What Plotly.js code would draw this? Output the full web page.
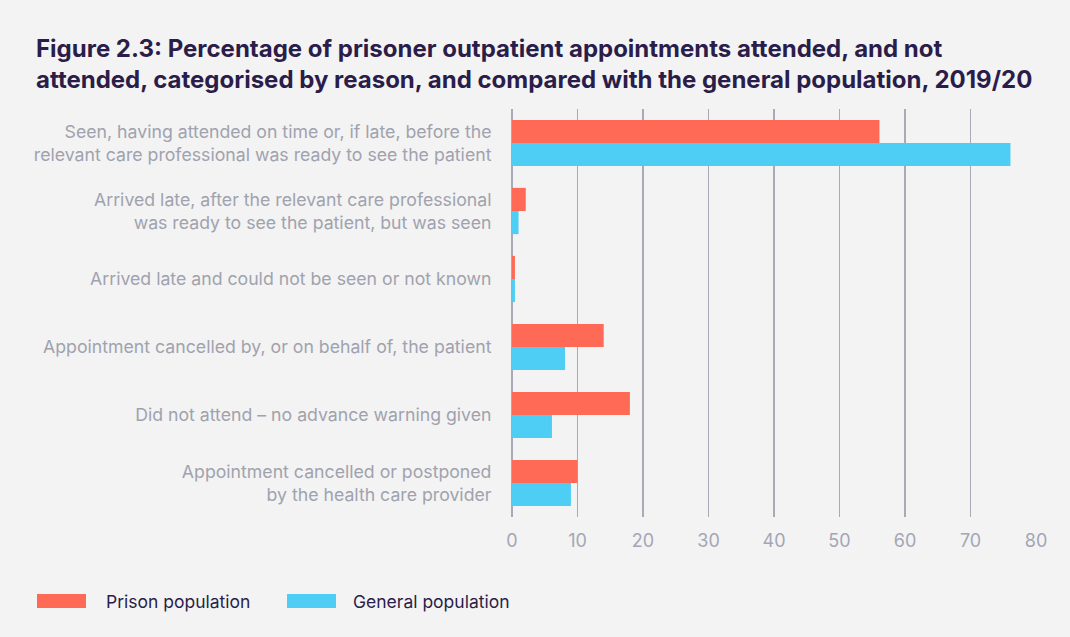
<!DOCTYPE html>
<html>
<head>
<meta charset="utf-8">
<script src="https://cdn.plot.ly/plotly-3.0.1.min.js"></script>
<style>
  html, body { margin: 0; padding: 0; background: #f3f3f3; }
  #chart { width: 1070px; height: 637px; }
</style>
</head>
<body>
<div id="chart"></div>
<script>
const categories = [
  "Seen, having attended on time or, if late, before the<br>relevant care professional was ready to see the patient",
  "Arrived late, after the relevant care professional<br>was ready to see the patient, but was seen",
  "Arrived late and could not be seen or not known",
  "Appointment cancelled by, or on behalf of, the patient",
  "Did not attend – no advance warning given",
  "Appointment cancelled or postponed<br>by the health care provider"
];
const prisonValues = [56.1, 2.1, 0.45, 14.0, 18.0, 10.0];
const generalValues = [76.1, 1.0, 0.45, 8.1, 6.1, 9.0];
const seriesNames = ["Prison population", "General population"];
const seriesColors = ["#ff6a57", "#4ecef5"];
const tickValues = [0, 10, 20, 30, 40, 50, 60, 70, 80];

const fontFam = "Inter, 'Noto Sans', sans-serif";

const traces = [
  { type: "bar", orientation: "h", name: seriesNames[0], y: categories, x: prisonValues,
    marker: { color: seriesColors[0] }, hoverinfo: "x+name" },
  { type: "bar", orientation: "h", name: seriesNames[1], y: categories, x: generalValues,
    marker: { color: seriesColors[1] }, hoverinfo: "x+name" }
];

// Plot domain in pixels: x 512..1036, y 109..517
const L = 512, R = 1036, T = 109, B = 517;
const px2x = p => (p - L) / (R - L);
const px2y = p => (B - p) / (B - T);

const legendItems = [
  { sx0: 37, sx1: 86, tx: 104 },
  { sx0: 287, sx1: 336, tx: 351 }
];
const shapes = [];
const annotations = [];
legendItems.forEach((it, i) => {
  shapes.push({ type: "rect", xref: "paper", yref: "paper",
    x0: px2x(it.sx0), x1: px2x(it.sx1), y0: px2y(594), y1: px2y(608),
    fillcolor: seriesColors[i], line: { width: 0 } });
  annotations.push({ xref: "paper", yref: "paper", x: px2x(it.tx), y: px2y(601),
    xanchor: "left", yanchor: "middle", showarrow: false, text: seriesNames[i],
    font: { family: fontFam, size: 17.5, color: "#2b1d4a" } });
});

const layout = {
  width: 1070, height: 637,
  paper_bgcolor: "#f3f3f3", plot_bgcolor: "#f3f3f3",
  margin: { l: L, r: 1070 - R, t: T, b: 637 - B, pad: 0 },
  barmode: "group", bargap: 0.32, bargroupgap: 0,
  showlegend: false,
  title: {
    text: "<b>Figure 2.3: Percentage of prisoner outpatient appointments attended, and not<br>attended, categorised by reason, and compared with the general population, 2019/20</b>",
    x: 36 / 1070, xanchor: "left", xref: "container",
    y: 1 - 57 / 637, yanchor: "top", yref: "container",
    font: { family: fontFam, size: 24, color: "#2b1d4a" }
  },
  xaxis: {
    range: [0, 80], tickvals: tickValues, ticktext: tickValues.map(String),
    showgrid: true, gridcolor: "#a8abb7", gridwidth: 1.5,
    zeroline: true, zerolinecolor: "#a8abb7", zerolinewidth: 1.5,
    showline: false, ticks: "outside", ticklen: 7, tickcolor: "rgba(0,0,0,0)",
    tickfont: { family: fontFam, size: 18, color: "#a3a6b4" },
    fixedrange: true
  },
  yaxis: {
    autorange: "reversed", showgrid: false, zeroline: false, showline: false,
    ticks: "outside", ticklen: 16, tickcolor: "rgba(0,0,0,0)",
    tickfont: { family: fontFam, size: 17.7, color: "#a0a2ae" },
    fixedrange: true
  },
  shapes: shapes,
  annotations: annotations,
  font: { family: fontFam }
};

Plotly.newPlot("chart", traces, layout, { displayModeBar: false, staticPlot: true });
</script>
</body>
</html>
